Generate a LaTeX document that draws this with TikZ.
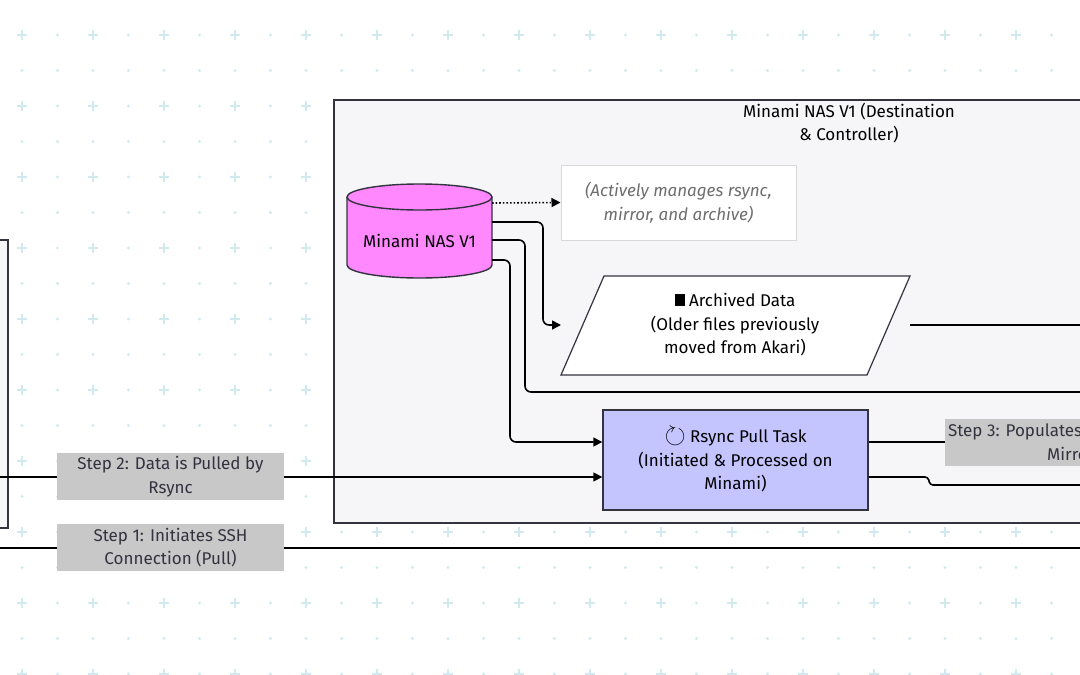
\documentclass[tikz,border=0pt]{standalone}
\usepackage{amssymb}
\usepackage{graphicx}
\usepackage{fontspec}
\setmainfont{Fira Sans}
\usetikzlibrary{arrows.meta,positioning,shapes.geometric}
\definecolor{gridc}{RGB}{208,234,240}
\definecolor{edgec}{RGB}{51,51,64}
\definecolor{clusterc}{RGB}{246,246,248}
\definecolor{nasc}{RGB}{255,136,255}
\definecolor{taskc}{RGB}{196,196,255}
\definecolor{labelc}{RGB}{200,200,200}
\definecolor{notec}{RGB}{110,110,110}
\tikzset{
  txt/.style={font=\fontsize{17}{23.5}\selectfont},
  box/.style={draw=edgec, line width=1.4pt, align=center, txt},
  steplbl/.style={fill=labelc, align=center, text=edgec, inner sep=0pt, txt},
  flow/.style={line width=1.6pt, rounded corners=6pt, -{Triangle[length=9pt,width=9pt]}},
  plain/.style={line width=1.6pt, rounded corners=6pt}
}
\begin{document}
\begin{tikzpicture}[x=1pt,y=-1pt]
  \useasboundingbox (0,0) rectangle (1080,675);
  %background grid
  \foreach \r in {0,...,9}{
    \foreach \c in {0,...,15}{
      \fill[gridc] (22+71*\c-5,35+71*\r-1.3) rectangle ++(10,2.6);
      \fill[gridc] (22+71*\c-1.3,35+71*\r-5) rectangle ++(2.6,10);
      \fill[gridc] (57.5+71*\c,35+71*\r) circle (1.7);
    }
    \foreach \c in {0,...,30}
      \fill[gridc] (22+35.5*\c,70.5+71*\r) circle (1.7);
  }
  %clusters
  \draw[edgec, fill=clusterc, line width=1.4pt] (-10,240) rectangle (8,528);
  \draw[edgec, fill=clusterc, line width=1.4pt] (334,100) rectangle (1090,523);
  \node[align=center, txt] (title) at (849,123) {Minami NAS V1 (Destination\\ \& Controller)};
  %nodes
  \fill[nasc] (347,197) -- (347,265) arc[start angle=180, end angle=0, x radius=72.5, y radius=13] -- (492,197) -- cycle;
  \draw[edgec, line width=1.4pt] (347,197) -- (347,265) arc[start angle=180, end angle=0, x radius=72.5, y radius=13] -- (492,197);
  \draw[edgec, fill=nasc, line width=1.4pt] (419.5,197) ellipse[x radius=72.5, y radius=13];
  \node[txt] (nas) at (419.5,241) {Minami NAS V1};
  \coordinate (n1) at (492,203);
  \coordinate (n2) at (492,222);
  \coordinate (n3) at (492,240);
  \coordinate (n4) at (492,260);
  \node[draw=black!15, fill=white, line width=1pt, minimum width=235, minimum height=75, align=center, text=notec,
        font=\fontsize{17}{23.5}\selectfont\itshape] (note) at (678.5,202.5) {(Actively manages rsync,\\mirror, and archive)};
  \draw[edgec, fill=white, line width=1.2pt] (561,375) -- (604,276) -- (910,276) -- (867,375) -- cycle;
  \node[align=center, txt] (arch) at (735,325) {\rule[1pt]{10pt}{12pt} Archived Data\\(Older files previously\\moved from Akari)};
  \coordinate (archw) at (561,325);
  \coordinate (arche) at (910,325);
  \node[box, fill=taskc, minimum width=265, minimum height=100] (task) at (735.5,460) {\raisebox{-1pt}{\scalebox{1.6}{$\circlearrowright$}} Rsync Pull Task\\(Initiated \& Processed on\\Minami)};
  \coordinate (off1) at (1090,392);
  \coordinate (off2) at (1090,325);
  \coordinate (off3) at (1090,442);
  \coordinate (off4) at (1090,485);
  \coordinate (akari2) at (-10,477);
  \coordinate (akari1) at (-10,548);
  \coordinate (far1) at (1090,548);
  %edges
  \draw[flow, dotted] (n1) -- (note.west);
  \draw[flow] (n2) -- (543,222) -- (543,325) -- (archw);
  \draw[plain] (n3) -- (525,240) -- (525,392) -- (off1);
  \draw[flow] (n4) -- (510,260) -- (510,442) -- (task.west |- 0,442);
  \draw[plain] (arche) -- (off2);
  \draw[flow] (akari2) -- (task.west |- 0,477);
  \draw[plain] (akari1) -- (far1);
  \draw[plain] (task.east |- 0,442) -- (off3);
  \draw[plain, rounded corners=3pt] (task.east |- 0,477) -- (928,477) -- (930,485) -- (off4);
  %edge labels
  \node[steplbl, minimum width=227, minimum height=47] (s2) at (170.5,476.5) {Step 2: Data is Pulled by\\Rsync};
  \node[steplbl, minimum width=227, minimum height=47] (s1) at (170.5,547.5) {Step 1: Initiates SSH\\Connection (Pull)};
  \node[steplbl, minimum height=47, anchor=west, align=left] (s3) at (945,442) {\,Step 3: Populates\\\hspace*{6em}Mirror};
\end{tikzpicture}
\end{document}
